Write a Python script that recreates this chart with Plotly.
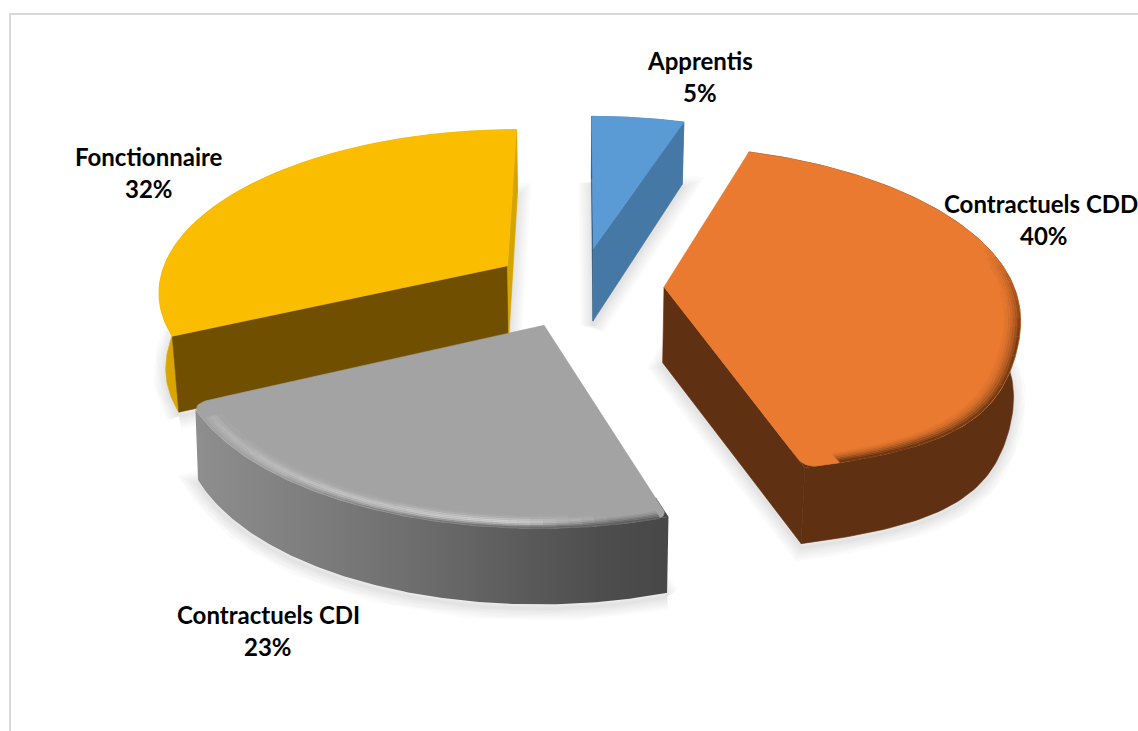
import numpy as np
import plotly.graph_objects as go

# Chart data
categories = ["Apprentis", "Contractuels CDD", "Contractuels CDI", "Fonctionnaire"]
values = [5, 40, 23, 32]

# Colours per slice: top face, outer wall, cut face at start angle, cut face at end angle
top_colors = ["#5b9bd5", "#ea7a30", "#a3a3a3", "#fbbd00"]
wall_colors = ["#4678a6", "#5f3011", "#474747", "#d9a600"]
start_cut_colors = ["#2c4f6e", "#5f3011", "#6e6e6e", "#705000"]
end_cut_colors = ["#4678a6", "#5f3011", "#6e6e6e", "#d6a400"]

# Label placement (centre x and y of the name line, then of the percent line)
label_name_x = [700, 1040.5, 268, 149]
label_name_y = [60, 203, 614, 156]
label_pct_x = [700, 1044, 268, 149]
label_pct_y = [92, 235, 646, 188]

# Slice separation, as a share of the radius
explosions = [0.25, 0.24, 0.25, 0.25]
# Extra outward swell of the outer edge around the lower right of the pie
swell = [0.0, 0.06, 0.0, 0.0]
SWELL_ANGLE, SWELL_WIDTH = np.radians(137), np.radians(20)

# Perspective camera and pie proportions
CX, CY = 580.0, 287.0
R, A, B = 350.0, 161.5, 0.1444
CAMERA_Y = 1 / B


def project(X, Y, z=0.0):
    X, Y = np.asarray(X, float), np.asarray(Y, float)
    s = 1 / (1 - B * Y)
    depth = np.minimum(76.0, 73.0 + (s - 0.97) * 90.0)
    return CX + R * X * s * (1 - 0.016 * z), CY + A * Y * s + depth * z


def rim(idx, t, r=1.0):
    ax, ay = apexes[idx]
    radius = r * (1 + swell[idx] * np.exp(-((t - SWELL_ANGLE) / SWELL_WIDTH) ** 2))
    return ax + radius * np.sin(t), ay - radius * np.cos(t)


def round_corner(xs, ys, i, radius):
    """Replace vertex i of an open polyline by a quadratic curve."""
    pts = np.column_stack([xs, ys])
    n = len(pts)

    def walk(step):
        j, dist = i, 0.0
        while 0 <= j + step < n and dist < radius:
            dist += np.hypot(*(pts[j + step] - pts[j]))
            j += step
        return j

    a, b = walk(-1), walk(1)
    u = np.linspace(0, 1, 10)[:, None]
    curve = (1 - u) ** 2 * pts[a] + 2 * u * (1 - u) * pts[i] + u ** 2 * pts[b]
    out = np.vstack([pts[:a], curve, pts[b + 1:]])
    return out[:, 0], out[:, 1]


fig = go.Figure()


def polygon(xs, ys, color=None, **extra):
    xs, ys = np.asarray(xs, float), np.asarray(ys, float)
    line = extra.pop("line", dict(width=0.6, color=color or "rgba(0,0,0,0)"))
    fig.add_trace(go.Scatter(
        x=np.append(xs, xs[0]), y=np.append(ys, ys[0]), mode="lines", fill="toself",
        fillcolor=color, line=line, hoverinfo="skip", showlegend=False, **extra))


# Angular extent of every slice, clockwise from twelve o'clock
fractions = np.array(values, float) / sum(values)
ends = np.cumsum(fractions) * 2 * np.pi
starts = ends - fractions * 2 * np.pi
mids = (starts + ends) / 2
apexes = [(e * np.sin(m), -e * np.cos(m)) for e, m in zip(explosions, mids)]
arcs = [np.linspace(s, e, 140) for s, e in zip(starts, ends)]

# Soft ground shadows: stacked translucent strokes around each slice's base
for i, t in enumerate(arcs):
    bx, by = project(*rim(i, t), 1)
    ax, ay = project(apexes[i][0], apexes[i][1], 1)
    sx = np.concatenate([bx, [float(ax)], bx[:1]])
    sy = np.concatenate([by, [float(ay)], by[:1]]) + 4
    for w in [26, 22, 18, 14, 10, 6, 3]:
        fig.add_trace(go.Scatter(x=sx, y=sy, mode="lines", hoverinfo="skip", showlegend=False,
                                 line=dict(width=w, color="rgba(0,0,0,0.016)")))


def arc_layer(idx, t, r, alpha_fn, rgb, width):
    """Stroke one inset arc, broken into pieces whose opacity follows alpha_fn."""
    buckets = {}
    for p, q in zip(range(0, len(t) - 3, 3), range(3, len(t), 3)):
        tm = 0.5 * (t[p] + t[q])
        al = round(float(alpha_fn(tm)) * 25) / 25
        if al <= 0:
            continue
        x, y = project(*rim(idx, t[p:q + 1], r))
        bx, by = buckets.setdefault(al, ([], []))
        bx.extend(x.tolist() + [None])
        by.extend(y.tolist() + [None])
    for al, (bx, by) in buckets.items():
        fig.add_trace(go.Scatter(
            x=bx, y=by, mode="lines", hoverinfo="skip", showlegend=False,
            line=dict(width=width, color=f"rgba({rgb},{al})")))


# Rounded corners of the top faces, per slice: (at start angle, at end angle)
corner_radius = [(0, 0), (0, 11), (11, 10), (0, 0)]
# End corners rounded against the background instead of over the wall below
open_corner = [False, False, True, False]
# Back-to-front painting order
order = [0, 3, 1, 2]

for i in order:
    apex, t = apexes[i], arcs[i]
    rx, ry = rim(i, t)

    # Outer wall; an open corner also trims the wall's upper edge
    wx0, wy0 = project(rx, ry, 0)
    wx1, wy1 = project(rx, ry, 1)
    trim = 3 if open_corner[i] else 0
    wall_x = np.concatenate([wx0[:len(wx0) - trim], wx1[::-1]])
    wall_y = np.concatenate([wy0[:len(wy0) - trim], wy1[::-1]])
    if categories[i] == "Contractuels CDI":
        polygon(wall_x, wall_y, wall_colors[i], line=dict(width=0), fillgradient=dict(
            type="horizontal", start=wx0.max(), stop=wx0.min(),
            colorscale=[[0, "#474747"], [0.15, "#4e4e4e"], [0.55, "#6f6f6f"], [1, "#8f8f8f"]]))
    else:
        polygon(wall_x, wall_y, wall_colors[i])

    # Cut faces that look towards the camera
    for angle, color, sign in ((t[0], start_cut_colors[i], -1), (t[-1], end_cut_colors[i], 1)):
        normal = (sign * np.cos(angle), sign * np.sin(angle))
        if normal[0] * (0 - apex[0]) + normal[1] * (CAMERA_Y - apex[1]) <= 0:
            continue
        px, py = rim(i, np.array(angle))
        ax0, ay0 = project(apex[0], apex[1], 0)
        ax1, ay1 = project(apex[0], apex[1], 1)
        px0, py0 = project(px, py, 0)
        px1, py1 = project(px, py, 1)
        polygon([ax0, px0, px1, ax1], [ay0, py0, py1, ay1], color)

    # Top face, with the straight edges sampled finely so corners can be rounded
    apex_x, apex_y = project(*apex)
    ramp = np.linspace(0, 1, 40)[:-1]
    outline_x = np.concatenate([apex_x + (wx0[0] - apex_x) * ramp, wx0, wx0[-1] + (apex_x - wx0[-1]) * ramp[1:]])
    outline_y = np.concatenate([apex_y + (wy0[0] - apex_y) * ramp, wy0, wy0[-1] + (apex_y - wy0[-1]) * ramp[1:]])
    start_index, end_index = len(ramp), len(ramp) + len(wx0) - 1

    # Wall colour shows where a rounded corner falls away from the sharp wedge
    if corner_radius[i][0]:
        polygon(outline_x[start_index - 4:start_index + 5], outline_y[start_index - 4:start_index + 5],
                wall_colors[i], line=dict(width=0))
    if corner_radius[i][1] and not open_corner[i]:
        polygon(outline_x[end_index - 6:end_index + 5], outline_y[end_index - 6:end_index + 5],
                wall_colors[i], line=dict(width=0))

    if corner_radius[i][1]:
        outline_x, outline_y = round_corner(outline_x, outline_y, end_index, corner_radius[i][1])
    if corner_radius[i][0]:
        outline_x, outline_y = round_corner(outline_x, outline_y, start_index, corner_radius[i][0])
    polygon(outline_x, outline_y, top_colors[i])

# Bevel on the orange slice: soft dark rim growing towards the front
cdd = categories.index("Contractuels CDD")
t_cdd = arcs[cdd]
for k, strength in enumerate([0.85, 0.6, 0.42, 0.28, 0.17, 0.09, 0.04]):
    r = 1 - 0.004 - k * 0.0065
    arc_layer(cdd, t_cdd[2:-3], r,
              lambda th, st=strength: st * np.clip((-np.cos(th) + 0.25) / 0.55, 0.0, 1),
              "95,48,17", 2.6)

# Bevel on the grey slice: dark outer edge, light ridge just inside it
cdi = categories.index("Contractuels CDI")
t_cdi = arcs[cdi]
first, second = t_cdi[0], t_cdi[-1]
for k, strength in enumerate([0.7, 0.5, 0.32, 0.18, 0.08]):
    r = 1 - 0.003 - k * 0.006
    arc_layer(cdi, t_cdi[2:-4], r,
              lambda th, st=strength: st * np.clip(1.15 - (th - first) / (second - first) * 1.6, 0.0, 1),
              "80,80,80", 2.4)
for k, strength in enumerate([0.18, 0.34, 0.4, 0.26, 0.12, 0.05]):
    r = 1 - 0.012 - k * 0.0075
    arc_layer(cdi, t_cdi[8:-6], r,
              lambda th, st=strength: st * np.clip((th - first) / 0.25 - 0.5, 0, 1)
              * np.clip(1.25 - (th - first) / (second - first) * 0.9, 0, 1),
              "255,255,255", 2.4)

# Labels: category name above its percentage
annotations = []
for name, val, nx, ny, px, py in zip(categories, values, label_name_x, label_name_y, label_pct_x, label_pct_y):
    for text, x, y in ((name, nx, ny), (f"{round(100 * val / sum(values))}%", px, py)):
        annotations.append(dict(
            x=x, y=y, text=text, showarrow=False, xanchor="center", yanchor="middle",
            font=dict(family="Lato", size=24, color="#000000", weight="bold")))

fig.update_layout(
    width=1138, height=731, margin=dict(l=0, r=0, t=0, b=0),
    paper_bgcolor="white", plot_bgcolor="white",
    xaxis=dict(range=[0, 1138], visible=False, fixedrange=True),
    yaxis=dict(range=[731, 0], visible=False, fixedrange=True),
    annotations=annotations,
    shapes=[dict(type="rect", xref="x", yref="y", x0=10, y0=14, x1=1160, y1=760,
                 line=dict(color="#d9d9d9", width=2), layer="below")],
)

fig.write_html("out.html")
